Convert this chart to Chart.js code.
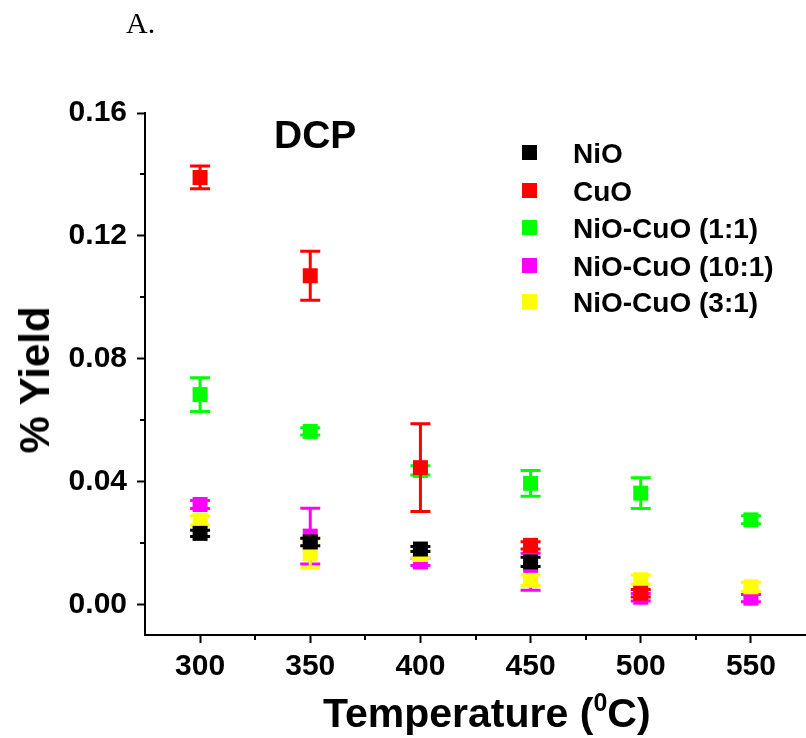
<!DOCTYPE html>
<html>
<head>
<meta charset="utf-8">
<script src="https://cdn.jsdelivr.net/npm/chart.js@4.4.1/dist/chart.umd.min.js"></script>
<style>
  body { margin: 0; background: #fff; }
  #wrap { position: relative; width: 806px; height: 738px; overflow: hidden; font-family: "Liberation Sans", Arial, sans-serif; }
  canvas { position: absolute; left: 0; top: 0; }
  .txt { position: absolute; font-weight: bold; color: #000; white-space: nowrap; }
  .leg { position: absolute; left: 522px; font-size: 28px; line-height: 32px; font-weight: bold; white-space: nowrap; }
  .leg i { display: inline-block; width: 15px; height: 15px; margin-right: 36px; vertical-align: 3px; }
</style>
</head>
<body>
<div id="wrap">
  <canvas id="chart" width="806" height="738"></canvas>
  <div class="txt" style="left:126px; top:6px; font-family:'Liberation Serif', 'Times New Roman', serif; font-weight:normal; font-size:30px;">A.</div>
  <div class="txt" style="left:274px; top:113px; font-size:39px; line-height:44px;">DCP</div>
  <div class="txt" style="left:323px; top:679px; font-size:41px; line-height:46px;">Temperature (<sup style="font-size:25px; vertical-align:16px;">0</sup>C)</div>
  <div class="txt" style="left:35px; top:380px; font-size:42px; line-height:46px; transform:translate(-50%,-50%) rotate(-90deg);">% Yield</div>
  <div id="legend"></div>
</div>
<script>
const temps = [300, 350, 400, 450, 500, 550];

const seriesNames = ["NiO", "CuO", "NiO-CuO (1:1)", "NiO-CuO (10:1)", "NiO-CuO (3:1)"];
const seriesColors = ["#000000", "#ff0000", "#00ff00", "#ff00ff", "#ffff00"];

// % yield, null = no point visible
const nio = [0.0231, 0.0203, 0.0180, 0.0138, null, null];
const cuo = [0.1390, 0.1070, 0.0445, 0.0192, 0.0036, null];
const mix11 = [0.0683, 0.0563, 0.0436, 0.0394, 0.0362, 0.0275];
const mix101 = [0.0325, 0.0222, 0.0138, 0.0106, 0.0023, 0.0020];
const mix31 = [0.0273, 0.0166, 0.0162, 0.0078, 0.0080, 0.0057];

// error bar half-heights
const nioErr = [0.0010, 0.0012, 0.0008, 0.0015, null, null];
const cuoErr = [0.0037, 0.0080, 0.0143, 0.0012, 0.0012, null];
const mix11Err = [0.0055, 0.0012, 0.0015, 0.0042, 0.0050, 0.0013];
const mix101Err = [0.0013, 0.0091, 0.0012, 0.0060, 0.0012, 0.0012];
const mix31Err = [0.0015, 0.0047, 0.0012, 0.0017, 0.0015, 0.0015];

const xTicks = [275, 300, 325, 350, 375, 400, 425, 450, 475, 500, 525, 550, 575];
const yTicks = [0, 0.02, 0.04, 0.06, 0.08, 0.10, 0.12, 0.14, 0.16];

const allValues = [nio, cuo, mix11, mix101, mix31];
const allErrors = [nioErr, cuoErr, mix11Err, mix101Err, mix31Err];
const drawOrder = [0, 0, 0, 10, 0]; // 10:1 series sits under the others

function points(vals, errs) {
    const out = [];
    temps.forEach((t, i) => {
        if (vals[i] != null) out.push({ x: t, y: vals[i], err: errs[i] });
    });
    return out;
}

const isMajorX = v => v % 50 === 0;
const isMajorY = v => Math.round(v * 100) % 4 === 0;

// vertical error bars with caps, drawn with each dataset
const errorBars = {
    id: "errorBars",
    afterDatasetDraw(chart, args) {
        const ds = chart.data.datasets[args.index];
        const ys = chart.scales.y;
        const ctx = chart.ctx;
        ctx.save();
        ctx.strokeStyle = ds.borderColor;
        ctx.lineWidth = 3;
        args.meta.data.forEach((el, i) => {
            const p = ds.data[i];
            if (!p.err) return;
            const top = ys.getPixelForValue(p.y + p.err);
            const bot = ys.getPixelForValue(p.y - p.err);
            ctx.beginPath();
            ctx.moveTo(el.x, top); ctx.lineTo(el.x, bot);
            ctx.moveTo(el.x - 10, top); ctx.lineTo(el.x + 10, top);
            ctx.moveTo(el.x - 10, bot); ctx.lineTo(el.x + 10, bot);
            ctx.stroke();
        });
        ctx.restore();
    }
};

// short minor ticks
const minorTicks = {
    id: "minorTicks",
    afterDraw(chart) {
        const ctx = chart.ctx;
        const xs = chart.scales.x, ys = chart.scales.y;
        const area = chart.chartArea;
        ctx.save();
        ctx.strokeStyle = "#000";
        ctx.lineWidth = 2;
        ctx.beginPath();
        xTicks.filter(v => !isMajorX(v) && v > 275 && v < 575).forEach(v => {
            const px = Math.round(xs.getPixelForValue(v));
            ctx.moveTo(px, area.bottom); ctx.lineTo(px, area.bottom + 5);
        });
        yTicks.filter(v => !isMajorY(v)).forEach(v => {
            const py = Math.round(ys.getPixelForValue(v));
            ctx.moveTo(area.left, py); ctx.lineTo(area.left - 5, py);
        });
        ctx.stroke();
        ctx.restore();
    }
};

const datasets = seriesNames.map((name, k) => ({
    label: name,
    data: points(allValues[k], allErrors[k]),
    backgroundColor: seriesColors[k],
    borderColor: seriesColors[k],
    order: drawOrder[k],
    pointStyle: "rect",
    pointRadius: 10.6,
    pointHoverRadius: 10.6,
    borderWidth: 0,
    showLine: false
}));

const tickFont = { family: "'Liberation Sans', Arial, sans-serif", size: 30, weight: "bold" };

new Chart(document.getElementById("chart").getContext("2d"), {
    type: "scatter",
    data: { datasets },
    plugins: [errorBars, minorTicks],
    options: {
        responsive: false,
        animation: false,
        layout: { autoPadding: false, padding: { top: 113, left: 0, right: 0, bottom: 0 } },
        plugins: {
            legend: { display: false },
            tooltip: { enabled: false }
        },
        scales: {
            x: {
                type: "linear",
                min: 275,
                max: 575,
                afterBuildTicks: s => { s.ticks = xTicks.map(v => ({ value: v })); },
                afterFit: s => { s.height = 103; s.paddingLeft = 0; s.paddingRight = 0; },
                ticks: {
                    color: "#000",
                    font: tickFont,
                    padding: 6,
                    maxRotation: 0,
                    autoSkip: false,
                    callback: v => (isMajorX(v) ? String(v) : "")
                },
                grid: {
                    drawOnChartArea: false,
                    tickLength: 8,
                    tickWidth: 2,
                    tickColor: c => (c.tick && isMajorX(c.tick.value) ? "#000" : "rgba(0,0,0,0)")
                },
                border: { display: true, color: "#000", width: 2 }
            },
            y: {
                type: "linear",
                min: -0.01,
                max: 0.16,
                afterBuildTicks: s => { s.ticks = yTicks.map(v => ({ value: v })); },
                afterFit: s => { s.width = 145; s.paddingTop = 0; s.paddingBottom = 0; },
                ticks: {
                    color: "#000",
                    font: tickFont,
                    padding: 10,
                    autoSkip: false,
                    callback: v => (isMajorY(v) ? v.toFixed(2) : "")
                },
                grid: {
                    drawOnChartArea: false,
                    tickLength: 8,
                    tickWidth: 2,
                    tickColor: c => (c.tick && isMajorY(c.tick.value) ? "#000" : "rgba(0,0,0,0)")
                },
                border: { display: true, color: "#000", width: 2 }
            }
        }
    }
});

// legend
const legend = document.getElementById("legend");
const rowCenters = [154, 192, 229, 267, 303];
seriesNames.forEach((name, k) => {
    const row = document.createElement("div");
    row.className = "leg";
    row.style.top = (rowCenters[k] - 16) + "px";
    row.innerHTML = '<i style="background:' + seriesColors[k] + '"></i>' + name;
    legend.appendChild(row);
});
</script>
</body>
</html>
